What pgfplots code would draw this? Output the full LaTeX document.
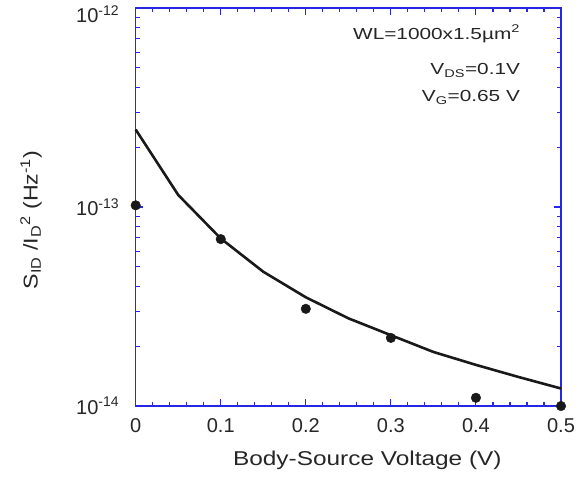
\documentclass[border=0pt]{standalone}
\usepackage{pgfplots}
\pgfplotsset{compat=1.18}
\usepackage{fontspec}
\setmainfont{Liberation Sans}
\newfontfamily\annfont[FakeStretch=1.3]{Liberation Sans}
\newfontfamily\labfont[FakeStretch=1.22]{Liberation Sans}
\newfontfamily\ylabfont[FakeStretch=1.16]{Liberation Sans}
\definecolor{frameblue}{rgb}{0.15,0.15,0.9}
\begin{document}
\begin{tikzpicture}
\path[use as bounding box] (-135.7pt,-71pt) rectangle (444.3pt,406pt);
\begin{axis}[
  at={(0pt,0pt)}, anchor=south west,
  scale only axis, width=425.3pt, height=398pt,
  xmin=0, xmax=0.5, ymin=1e-14, ymax=1e-12,
  ymode=log,
  axis line style={frameblue, line width=1.3pt},
  every tick/.style={frameblue, line width=1.1pt},
  tick align=inside,
  major tick length=7pt, minor tick length=4pt,
  xtick={0,0.1,0.2,0.3,0.4,0.5},
  xticklabels={0,0.1,0.2,0.3,0.4,0.5},
  minor x tick num=4,
  ytick={1e-14,1e-13,1e-12},
  yticklabels={10\textsuperscript{-14},10\textsuperscript{-13},\raisebox{-6pt}[\height][\depth]{10\textsuperscript{-12}}},
  ticklabel style={font=\fontsize{20}{24}\selectfont, text=black!85},
  xticklabel style={yshift=-9pt},
  yticklabel style={xshift=-13pt},
  xlabel={Body-Source Voltage (V)},
  ylabel={S\textsubscript{ID} /I\textsubscript{D}\textsuperscript{2} (Hz\textsuperscript{-1})},
  xlabel style={font=\labfont\fontsize{20}{24}\selectfont, text=black!85, at={(axis description cs:0.5,0)}, anchor=base, yshift=-59pt, xshift=19pt},
  ylabel style={font=\ylabfont\fontsize{20}{24}\selectfont, text=black!85, at={(axis description cs:-0.246,0.467)}, anchor=center},
  clip=false,
]
\addplot[black!90, line width=2.6pt, line join=round] coordinates {
 (0,2.45e-13) (0.05,1.15e-13) (0.1,6.95e-14) (0.15,4.73e-14) (0.2,3.52e-14)
 (0.25,2.76e-14) (0.3,2.27e-14) (0.35,1.87e-14) (0.4,1.61e-14) (0.45,1.40e-14) (0.5,1.225e-14)
};
\addplot[only marks, mark=*, mark size=4.8pt, black!90] coordinates {
 (0,1.02e-13) (0.1,6.9e-14) (0.2,3.08e-14) (0.3,2.2e-14) (0.4,1.1e-14) (0.5,1.0e-14)
};
\node[anchor=base east, inner sep=0pt, text=black!85, font=\annfont\fontsize{16}{19}\selectfont] at (axis description cs:0.904,0.922) {WL=1000x1.5\textmu m\textsuperscript{2}};
\node[anchor=base east, inner sep=0pt, text=black!85, font=\annfont\fontsize{16}{19}\selectfont] at (axis description cs:0.904,0.832) {V\textsubscript{DS}=0.1V};
\node[anchor=base east, inner sep=0pt, text=black!85, font=\annfont\fontsize{16}{19}\selectfont] at (axis description cs:0.904,0.764) {V\textsubscript{G}=0.65 V};
\end{axis}
\end{tikzpicture}
\end{document}
